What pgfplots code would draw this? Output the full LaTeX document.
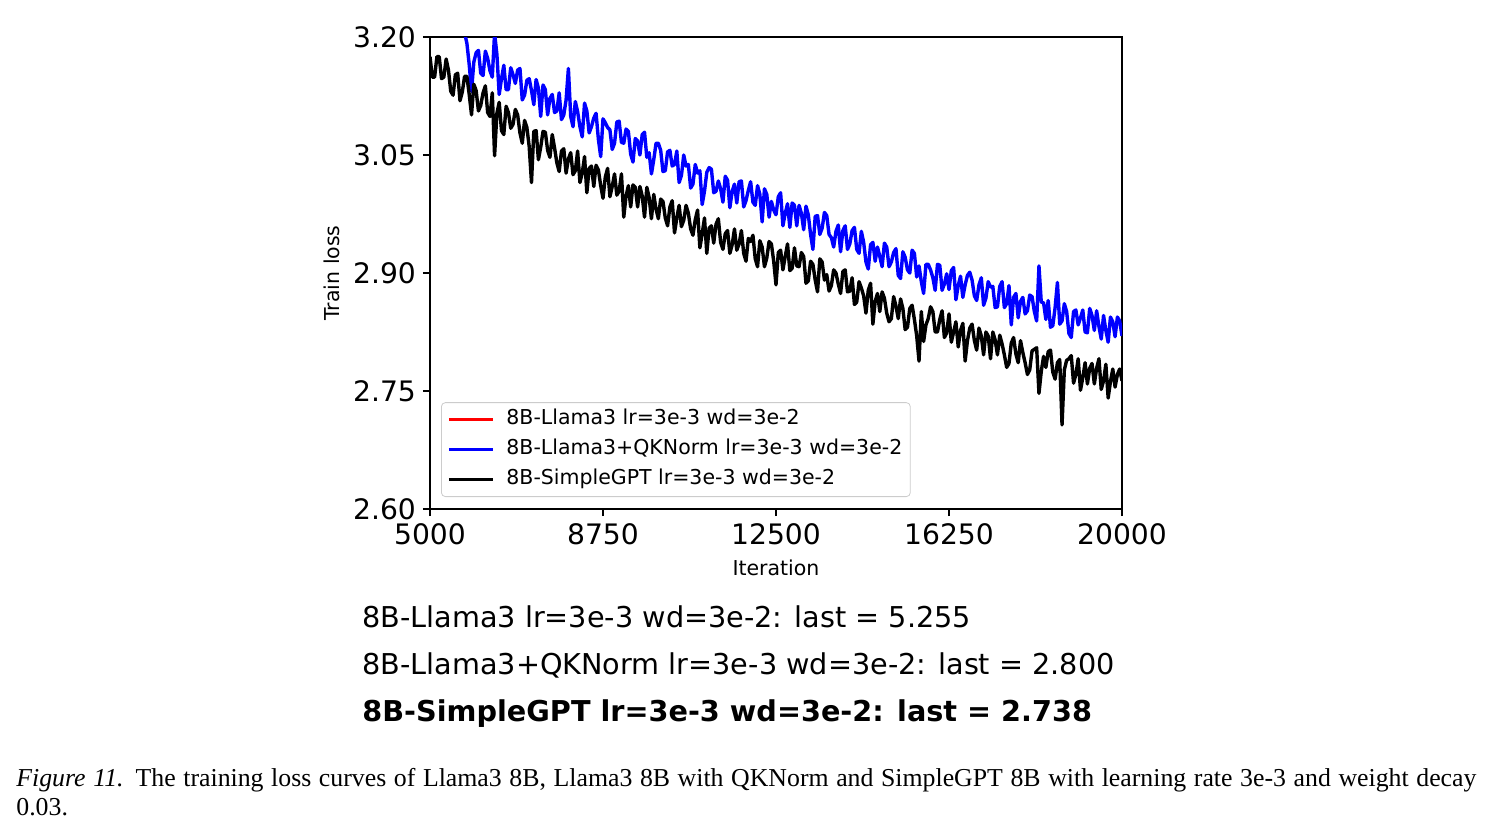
\documentclass[border=0pt]{standalone}
\usepackage{fontspec}
\setmainfont{DejaVu Sans}
\newfontfamily\capfont{Liberation Serif}
\usepackage{pgfplots}
\usepackage{pgfplotstable}
\pgfplotsset{compat=1.18}

\pgfplotstableread{
it loss
5000 3.262
5050 3.252
5100 3.248
5150 3.262
5200 3.268
5250 3.250
5300 3.241
5350 3.248
5400 3.255
5450 3.240
5500 3.228
5550 3.232
5600 3.236
5650 3.224
5700 3.214
5750 3.205
5800 3.192
5850 3.165
5900 3.131
5950 3.168
6000 3.180
6050 3.183
6100 3.154
6150 3.151
6200 3.182
6250 3.173
6300 3.157
6350 3.149
6400 3.205
6450 3.178
6500 3.127
6550 3.147
6600 3.164
6650 3.133
6700 3.133
6750 3.161
6800 3.152
6850 3.141
6900 3.158
6950 3.160
7000 3.120
7050 3.126
7100 3.145
7150 3.147
7200 3.132
7250 3.114
7300 3.146
7350 3.135
7400 3.099
7450 3.139
7500 3.133
7550 3.101
7600 3.122
7650 3.127
7700 3.104
7750 3.106
7800 3.129
7850 3.095
7900 3.101
7950 3.120
8000 3.160
8050 3.099
8100 3.086
8150 3.118
8200 3.105
8250 3.086
8300 3.073
8350 3.116
8400 3.106
8450 3.078
8500 3.086
8550 3.097
8600 3.103
8650 3.070
8700 3.048
8750 3.096
8800 3.091
8850 3.085
8900 3.082
8950 3.057
9000 3.065
9050 3.092
9100 3.093
9150 3.066
9200 3.065
9250 3.083
9300 3.080
9350 3.051
9400 3.041
9450 3.071
9500 3.068
9550 3.050
9600 3.076
9650 3.079
9700 3.047
9750 3.053
9800 3.026
9850 3.044
9900 3.065
9950 3.065
10000 3.056
10050 3.029
10100 3.030
10150 3.054
10200 3.056
10250 3.036
10300 3.038
10350 3.055
10400 3.015
10450 3.024
10500 3.050
10550 3.036
10600 3.038
10650 3.008
10700 3.013
10750 3.038
10800 3.027
10850 3.030
10900 2.987
10950 3.004
11000 3.028
11050 3.034
11100 3.032
11150 3.002
11200 3.004
11250 3.017
11300 3.007
11350 2.990
11400 3.023
11450 3.018
11500 2.983
11550 3.004
11600 3.013
11650 2.989
11700 3.016
11750 3.017
11800 2.984
11850 2.992
11900 3.005
11950 3.016
12000 2.990
12050 2.986
12100 3.011
12150 3.000
12200 2.965
12250 3.007
12300 3.000
12350 2.971
12400 2.991
12450 2.980
12500 2.974
12550 2.997
12600 3.002
12650 2.960
12700 2.976
12750 2.988
12800 2.958
12850 2.989
12900 2.986
12950 2.960
13000 2.986
13050 2.976
13100 2.955
13150 2.985
13200 2.974
13250 2.949
13300 2.930
13350 2.972
13400 2.973
13450 2.949
13500 2.957
13550 2.977
13600 2.973
13650 2.949
13700 2.945
13750 2.933
13800 2.953
13850 2.961
13900 2.927
13950 2.954
14000 2.960
14050 2.930
14100 2.937
14150 2.954
14200 2.958
14250 2.930
14300 2.925
14350 2.953
14400 2.939
14450 2.914
14500 2.905
14550 2.936
14600 2.939
14650 2.915
14700 2.933
14750 2.921
14800 2.908
14850 2.938
14900 2.933
14950 2.908
15000 2.914
15050 2.926
15100 2.931
15150 2.897
15200 2.893
15250 2.927
15300 2.920
15350 2.904
15400 2.900
15450 2.929
15500 2.925
15550 2.895
15600 2.909
15650 2.889
15700 2.874
15750 2.911
15800 2.911
15850 2.904
15900 2.894
15950 2.878
16000 2.911
16050 2.910
16100 2.878
16150 2.886
16200 2.899
16250 2.879
16300 2.903
16350 2.907
16400 2.866
16450 2.884
16500 2.896
16550 2.869
16600 2.885
16650 2.897
16700 2.901
16750 2.891
16800 2.871
16850 2.865
16900 2.885
16950 2.894
17000 2.859
17050 2.868
17100 2.889
17150 2.882
17200 2.883
17250 2.856
17300 2.857
17350 2.883
17400 2.889
17450 2.856
17500 2.861
17550 2.884
17600 2.834
17650 2.869
17700 2.874
17750 2.843
17800 2.864
17850 2.869
17900 2.848
17950 2.852
18000 2.872
18050 2.870
18100 2.851
18150 2.839
18200 2.909
18250 2.863
18300 2.862
18350 2.841
18400 2.865
18450 2.831
18500 2.833
18550 2.856
18600 2.888
18650 2.835
18700 2.839
18750 2.861
18800 2.851
18850 2.823
18900 2.818
18950 2.851
19000 2.853
19050 2.834
19100 2.843
19150 2.853
19200 2.825
19250 2.824
19300 2.855
19350 2.846
19400 2.827
19450 2.852
19500 2.832
19550 2.816
19600 2.846
19650 2.827
19700 2.812
19750 2.844
19800 2.838
19850 2.819
19900 2.844
19950 2.839
20000 2.820
}\bluetab

\pgfplotstableread{
it loss
5000 3.175
5050 3.149
5100 3.149
5150 3.175
5200 3.175
5250 3.147
5300 3.149
5350 3.172
5400 3.158
5450 3.131
5500 3.126
5550 3.152
5600 3.154
5650 3.119
5700 3.130
5750 3.150
5800 3.150
5850 3.127
5900 3.101
5950 3.140
6000 3.132
6050 3.106
6100 3.113
6150 3.129
6200 3.138
6250 3.104
6300 3.099
6350 3.129
6400 3.049
6450 3.103
6500 3.117
6550 3.081
6600 3.076
6650 3.112
6700 3.104
6750 3.084
6800 3.089
6850 3.108
6900 3.101
6950 3.078
7000 3.065
7050 3.094
7100 3.085
7150 3.061
7200 3.015
7250 3.080
7300 3.081
7350 3.044
7400 3.060
7450 3.080
7500 3.079
7550 3.056
7600 3.047
7650 3.076
7700 3.059
7750 3.040
7800 3.029
7850 3.055
7900 3.058
7950 3.027
8000 3.045
8050 3.053
8100 3.025
8150 3.030
8200 3.055
8250 3.015
8300 3.027
8350 3.048
8400 3.002
8450 3.033
8500 3.036
8550 3.010
8600 3.037
8650 3.031
8700 3.011
8750 2.995
8800 3.022
8850 3.033
8900 2.997
8950 3.010
9000 3.026
9050 2.999
9100 3.004
9150 3.026
9200 2.971
9250 2.998
9300 3.011
9350 2.984
9400 3.012
9450 3.009
9500 2.984
9550 3.010
9600 2.998
9650 2.971
9700 3.009
9750 2.996
9800 2.969
9850 3.000
9900 2.981
9950 2.969
10000 2.994
10050 2.991
10100 2.970
10150 2.960
10200 2.984
10250 2.992
10300 2.951
10350 2.970
10400 2.986
10450 2.959
10500 2.967
10550 2.986
10600 2.976
10650 2.956
10700 2.948
10750 2.968
10800 2.980
10850 2.932
10900 2.950
10950 2.970
11000 2.925
11050 2.957
11100 2.960
11150 2.938
11200 2.962
11250 2.969
11300 2.939
11350 2.930
11400 2.950
11450 2.954
11500 2.925
11550 2.936
11600 2.956
11650 2.929
11700 2.937
11750 2.954
11800 2.925
11850 2.915
11900 2.944
11950 2.940
12000 2.948
12050 2.918
12100 2.908
12150 2.941
12200 2.933
12250 2.908
12300 2.919
12350 2.940
12400 2.937
12450 2.915
12500 2.885
12550 2.926
12600 2.929
12650 2.904
12700 2.921
12750 2.937
12800 2.903
12850 2.906
12900 2.932
12950 2.909
13000 2.908
13050 2.926
13100 2.921
13150 2.887
13200 2.890
13250 2.915
13300 2.911
13350 2.891
13400 2.876
13450 2.918
13500 2.914
13550 2.891
13600 2.898
13650 2.877
13700 2.884
13750 2.904
13800 2.900
13850 2.886
13900 2.874
13950 2.902
14000 2.904
14050 2.876
14100 2.877
14150 2.894
14200 2.860
14250 2.863
14300 2.889
14350 2.881
14400 2.871
14450 2.849
14500 2.878
14550 2.887
14600 2.835
14650 2.864
14700 2.874
14750 2.851
14800 2.876
14850 2.868
14900 2.849
14950 2.838
15000 2.842
15050 2.870
15100 2.858
15150 2.842
15200 2.867
15250 2.855
15300 2.828
15350 2.831
15400 2.855
15450 2.859
15500 2.841
15550 2.820
15600 2.788
15650 2.851
15700 2.813
15750 2.834
15800 2.842
15850 2.857
15900 2.851
15950 2.825
16000 2.825
16050 2.841
16100 2.852
16150 2.818
16200 2.824
16250 2.848
16300 2.812
16350 2.825
16400 2.838
16450 2.806
16500 2.827
16550 2.836
16600 2.788
16650 2.814
16700 2.830
16750 2.835
16800 2.814
16850 2.802
16900 2.830
16950 2.820
17000 2.796
17050 2.825
17100 2.820
17150 2.791
17200 2.825
17250 2.815
17300 2.796
17350 2.821
17400 2.810
17450 2.796
17500 2.780
17550 2.785
17600 2.811
17650 2.818
17700 2.797
17750 2.786
17800 2.814
17850 2.799
17900 2.786
17950 2.771
18000 2.777
18050 2.801
18100 2.803
18150 2.805
18200 2.747
18250 2.775
18300 2.794
18350 2.780
18400 2.800
18450 2.802
18500 2.774
18550 2.765
18600 2.786
18650 2.790
18700 2.707
18750 2.777
18800 2.789
18850 2.791
18900 2.795
18950 2.760
19000 2.771
19050 2.791
19100 2.751
19150 2.767
19200 2.786
19250 2.759
19300 2.779
19350 2.785
19400 2.759
19450 2.779
19500 2.791
19550 2.752
19600 2.763
19650 2.784
19700 2.741
19750 2.762
19800 2.778
19850 2.755
19900 2.771
19950 2.778
20000 2.763
}\blacktab

\begin{document}
\begin{tikzpicture}
\useasboundingbox (-215pt,-163.5pt) rectangle (531pt,254.5pt);
\begin{axis}[
  at={(0pt,0pt)}, anchor=south west,
  scale only axis, width=346pt, height=236pt,
  xmin=5000, xmax=20000, ymin=2.6, ymax=3.2,
  xtick={5000,8750,12500,16250,20000},
  ytick={2.6,2.75,2.9,3.05,3.2},
  tick align=outside, xtick pos=left, ytick pos=left,
  major tick length=3.5pt,
  axis line style={line width=0.8pt},
  every tick/.style={line width=0.8pt, black},
  tick label style={font=\fontsize{14.1}{16}\selectfont},
  /pgf/number format/assume math mode=true,
  scaled x ticks=false, scaled y ticks=false,
  xticklabel style={/pgf/number format/1000 sep={}},
  yticklabel style={/pgf/number format/.cd, fixed, fixed zerofill, precision=2},
  xlabel={Iteration}, ylabel={Train loss},
  label style={font=\fontsize{10.25}{12}\selectfont},
  xlabel style={at={(axis description cs:0.5,-0.125)}, anchor=center},
  ylabel style={at={(axis description cs:-0.1416,0.5)}, anchor=center},
  legend cell align=left,
  legend image code/.code={\draw[#1, line width=1.5pt] (0pt,0pt) -- (22pt,0pt);},
  legend style={at={(0.0159,0.0254)}, anchor=south west, draw=black!20,
    rounded corners=2pt, fill=white, font=\fontsize{10.25}{12}\selectfont,
    inner xsep=3pt, inner ysep=2.5pt, row sep=3pt, column sep=5pt,
    nodes={inner sep=1pt, text height=7.5pt, text depth=2.5pt}},
]
\addlegendimage{red, line width=1.5pt}
\addlegendentry{8B-Llama3 lr=3e-3 wd=3e-2}
\addplot[color={rgb,255:red,0;green,0;blue,255}, line width=1.7pt, no marks, line join=round] table[x=it, y=loss] {\bluetab};
\addlegendentry{8B-Llama3+QKNorm lr=3e-3 wd=3e-2}
\addplot[black, line width=1.7pt, no marks, line join=round] table[x=it, y=loss] {\blacktab};
\addlegendentry{8B-SimpleGPT lr=3e-3 wd=3e-2}
\end{axis}
\node[anchor=base west, inner sep=0pt, font=\fontsize{14.35}{16}\selectfont] at (-34pt,-59pt) {8B-Llama3 lr=3e-3 wd=3e-2: last = 5.255};
\node[anchor=base west, inner sep=0pt, font=\fontsize{14.35}{16}\selectfont] at (-34pt,-82.5pt) {8B-Llama3+QKNorm lr=3e-3 wd=3e-2: last = 2.800};
\node[anchor=base west, inner sep=0pt, font=\fontsize{14.35}{16}\selectfont\bfseries] at (-34pt,-106pt) {8B-SimpleGPT lr=3e-3 wd=3e-2: last = 2.738};
\node[anchor=base west, inner sep=0pt, text width=730pt, align=justify, font=\capfont\fontsize{12.9}{14.5}\selectfont] at (-207pt,-138.5pt) {\textit{Figure 11.} The training loss curves of Llama3 8B, Llama3 8B with QKNorm and SimpleGPT 8B with learning rate 3e-3 and weight decay\linebreak 0.03.};
\end{tikzpicture}
\end{document}
